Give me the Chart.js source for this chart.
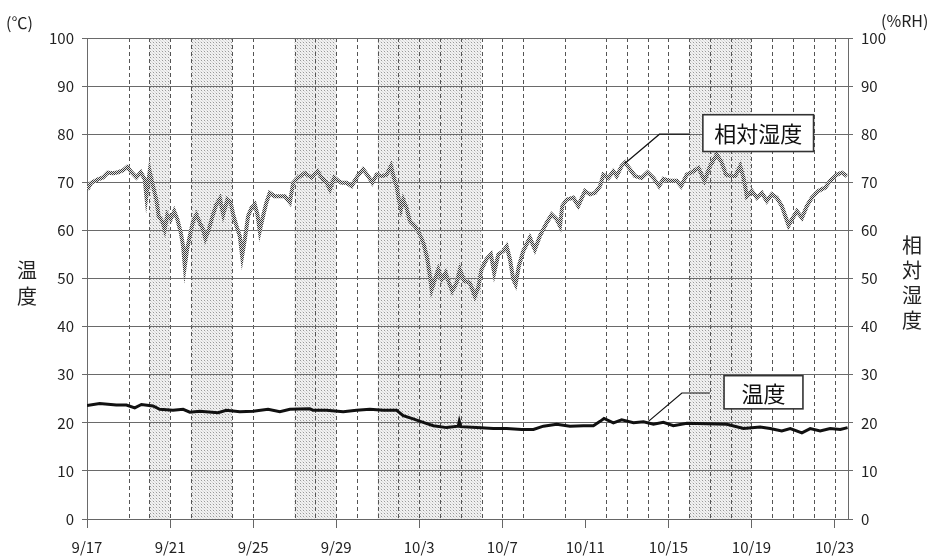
<!DOCTYPE html>
<html>
<head>
<meta charset="utf-8">
<script src="https://cdn.jsdelivr.net/npm/chart.js@4"></script>
<style>
  body { margin: 0; background: #fff; }
  #wrap { width: 934px; height: 559px; }
</style>
</head>
<body>
<div id="wrap"><canvas id="rhChart" width="934" height="559"></canvas></div>
<script>
// x values are days since 9/17
const tickLabels = ['9/17', '9/21', '9/25', '9/29', '10/3', '10/7', '10/11', '10/15', '10/19', '10/23'];

const rhDays = [0.02, 0.21, 0.53, 0.77, 1.0, 1.25, 1.5, 1.74, 1.94, 2.14, 2.38, 2.59, 2.78, 2.86, 3.02, 3.18, 3.34, 3.45, 3.62, 3.74,
  3.87, 4.03, 4.2, 4.35, 4.52, 4.63, 4.71, 4.82, 4.95, 5.11, 5.27, 5.43, 5.59, 5.7, 5.87, 6.07, 6.23, 6.4, 6.56, 6.76,
  6.92, 7.04, 7.2, 7.36, 7.47, 7.6, 7.76, 7.92, 8.08, 8.21, 8.32, 8.48, 8.64, 8.8, 9.04, 9.53, 9.77, 9.93, 10.17, 10.49,
  10.81, 11.1, 11.3, 11.54, 11.7, 11.91, 12.1, 12.26, 12.5, 12.74, 13.03, 13.3, 13.54, 13.74, 13.95, 14.19, 14.43, 14.64, 14.8, 14.91,
  15.02, 15.12, 15.23, 15.39, 15.55, 15.79, 15.99, 16.2, 16.36, 16.47, 16.6, 16.76, 16.92, 17.08, 17.27, 17.4, 17.59, 17.8, 17.96, 18.17,
  18.44, 18.68, 18.84, 19.0, 19.24, 19.45, 19.61, 19.81, 20.05, 20.21, 20.37, 20.53, 20.64, 20.8, 21.01, 21.33, 21.57, 21.81, 22.14, 22.38,
  22.62, 22.78, 22.89, 23.1, 23.42, 23.66, 23.98, 24.22, 24.47, 24.71, 24.87, 25.11, 25.35, 25.51, 25.75, 25.91, 26.15, 26.39, 26.71, 27.0,
  27.28, 27.55, 27.76, 28.08, 28.4, 28.61, 28.89, 29.21, 29.45, 29.74, 30.01, 30.33, 30.57, 30.77, 31.02, 31.22, 31.46, 31.62, 31.78, 32.02,
  32.26, 32.5, 32.74, 32.98, 33.22, 33.46, 33.63, 33.79, 33.95, 34.19, 34.43, 34.67, 34.91, 35.23, 35.55, 35.79, 36.12, 36.36, 36.6];
const rhValues = [68.5, 69.9, 70.6, 71, 72, 71.9, 72.1, 72.5, 73.2, 72.1, 71, 72.1, 70.6, 67.1, 72.3, 69.2, 66.4, 63, 61.9, 60.2,
  63.3, 62.3, 64, 62.3, 59.5, 56.7, 52.6, 56, 58.8, 61.9, 63.3, 61.6, 60.2, 58.3, 60.2, 63.3, 65.4, 66.6, 63.3, 66.4,
  65.8, 63.3, 60.9, 58.8, 54.7, 58.1, 63, 64.7, 65.4, 63.3, 59.9, 63, 65.8, 67.8, 67.1, 67.1, 65.8, 69.9, 71, 71.9,
  71, 72.3, 71, 69.9, 68.5, 71, 70.3, 69.9, 69.9, 69.2, 71.3, 72.7, 71.3, 69.9, 71.6, 71.3, 71.6, 73.4, 70.6, 69.2,
  66.4, 64.4, 66.4, 64.7, 61.9, 60.9, 59.5, 57.4, 54.7, 51.9, 47.7, 49.8, 51.9, 49.8, 51.2, 49.5, 47.4, 49.1, 51.9, 49.5,
  49.1, 46.3, 48.1, 51.9, 54, 55, 51.2, 55, 55.7, 56.7, 54, 49.8, 48.8, 52.6, 55.7, 58.5, 56, 58.8, 61.6, 63.3,
  62.3, 60.9, 65.1, 66.4, 66.8, 65.1, 68.2, 67.5, 67.8, 69.2, 71.6, 70.9, 72.3, 71.3, 73.4, 74.1, 72.7, 71.3, 70.9, 72.1,
  70.9, 69.2, 70.7, 70.3, 70.3, 69.2, 71.6, 72.3, 73, 70.3, 73.4, 75.8, 74.1, 71.6, 71.3, 71.3, 73.4, 70.9, 67.1, 68.2,
  66.8, 67.8, 66.1, 67.5, 66.8, 65.1, 63, 61, 62.3, 64, 62.6, 65.1, 66.8, 68.2, 68.9, 70.3, 71.6, 72, 71.3];

const tempDays = [0, 0.61, 1.41, 1.9, 2.3, 2.62, 3.18, 3.5, 4.14, 4.63, 4.95, 5.43, 6.31, 6.71, 7.36, 8.0, 8.72, 9.29, 9.77, 10.73,
  10.89, 11.53, 12.34, 12.98, 13.62, 14.27, 14.91, 15.23, 15.71, 16.19, 16.68, 17.32, 17.88, 17.93, 18.0, 18.76, 19.57, 20.21, 20.93, 21.5,
  21.98, 22.62, 23.26, 23.9, 24.39, 24.71, 24.9, 25.35, 25.75, 26.32, 26.8, 27.28, 27.76, 28.24, 28.89, 29.85, 30.81, 31.62, 32.42, 32.9,
  33.46, 33.87, 34.43, 34.83, 35.31, 35.79, 36.28, 36.63];
const tempValues = [23.6, 24, 23.7, 23.7, 23.1, 23.8, 23.5, 22.8, 22.6, 22.8, 22.2, 22.4, 22.1, 22.6, 22.3, 22.4, 22.8, 22.3, 22.8, 22.9,
  22.6, 22.6, 22.3, 22.6, 22.8, 22.6, 22.6, 21.5, 20.8, 20.1, 19.4, 19, 19.3, 20.3, 19.2, 19, 18.8, 18.8, 18.6, 18.6,
  19.3, 19.7, 19.3, 19.4, 19.4, 20.3, 20.9, 20, 20.6, 20, 20.2, 19.7, 20.1, 19.4, 19.9, 19.8, 19.7, 18.8, 19.1, 18.8,
  18.3, 18.8, 17.9, 18.8, 18.3, 18.8, 18.6, 19];

// shaded day spans and dashed day lines
const shadeRanges = [[3, 4], [5, 7], [10, 12], [14, 19], [29, 32]];
const dashDays = [2, 3, 4, 5, 7, 8, 10, 11, 12, 13, 14, 15, 16, 17, 18, 19, 20, 21, 23, 25, 26, 27, 28, 29, 30, 31, 32, 33, 34, 35, 36];

const FONT = '"Noto Sans CJK JP", "Noto Sans", sans-serif';

function makePattern(size, bg, dots) {
    const c = document.createElement('canvas');
    c.width = size; c.height = size;
    const g = c.getContext('2d');
    g.fillStyle = bg;
    g.fillRect(0, 0, size, size);
    dots.forEach(([x, y, col]) => { g.fillStyle = col; g.fillRect(x, y, 1, 1); });
    return g.createPattern(c, 'repeat');
}

const shadePattern = makePattern(3, '#f1f1f1', [[0, 0, '#9a9a9a'], [1, 1, '#dcdcdc'], [2, 2, '#dcdcdc']]);
const rhPattern = makePattern(2, '#e2e2e2', [[0, 0, '#3a3a3a'], [1, 1, '#3a3a3a']]);

function callout(ctx, x, y, text, box, line) {
    ctx.strokeStyle = '#111';
    ctx.lineWidth = 1.2;
    ctx.setLineDash([]);
    ctx.beginPath();
    ctx.moveTo(x.getPixelForValue(line[0][0]), y.getPixelForValue(line[0][1]));
    for (let i = 1; i < line.length; i++) {
        ctx.lineTo(x.getPixelForValue(line[i][0]), y.getPixelForValue(line[i][1]));
    }
    ctx.stroke();
    const x0 = x.getPixelForValue(box[0]), x1 = x.getPixelForValue(box[1]);
    const y0 = y.getPixelForValue(box[2]), y1 = y.getPixelForValue(box[3]);
    ctx.fillStyle = '#fff';
    ctx.fillRect(x0, y0, x1 - x0, y1 - y0);
    ctx.lineWidth = 1.6;
    ctx.strokeStyle = '#333';
    ctx.strokeRect(x0, y0, x1 - x0, y1 - y0);
    ctx.fillStyle = '#111';
    ctx.font = '22px ' + FONT;
    ctx.textAlign = 'center';
    ctx.textBaseline = 'middle';
    ctx.fillText(text, (x0 + x1) / 2, (y0 + y1) / 2 + 1);
}

const decor = {
    id: 'decor',
    beforeDraw(chart) {
        const {ctx, chartArea: a, scales: {x}} = chart;
        ctx.save();
        ctx.fillStyle = shadePattern;
        shadeRanges.forEach(([s, e]) => {
            const x0 = x.getPixelForValue(s), x1 = x.getPixelForValue(e);
            ctx.fillRect(x0, a.top, x1 - x0, a.bottom - a.top);
        });
        ctx.strokeStyle = '#555';
        ctx.lineWidth = 1;
        ctx.setLineDash([4, 3]);
        dashDays.forEach(d => {
            const px = Math.round(x.getPixelForValue(d)) + 0.5;
            ctx.beginPath();
            ctx.moveTo(px, a.top);
            ctx.lineTo(px, a.bottom);
            ctx.stroke();
        });
        ctx.restore();
    },
    afterDraw(chart) {
        const {ctx, scales: {x, y}} = chart;
        ctx.save();
        callout(ctx, x, y, '相対湿度', [29.66, 34.99, 84.05, 76.4], [[29.04, 80], [27.57, 80], [25.9, 73.9]]);
        callout(ctx, x, y, '温度', [30.68, 34.48, 29.8, 22.9], [[30.0, 26.2], [28.65, 26.2], [27.04, 20.3]]);

        ctx.fillStyle = '#222';
        ctx.font = '16px ' + FONT;
        ctx.textBaseline = 'middle';
        ctx.textAlign = 'left';
        ctx.fillText('(℃)', 6, 23);
        ctx.fillText('(%RH)', 881, 21);

        ctx.font = '20px ' + FONT;
        ctx.textAlign = 'center';
        ['温', '度'].forEach((ch, i) => ctx.fillText(ch, 27, 270 + i * 26));
        ['相', '対', '湿', '度'].forEach((ch, i) => ctx.fillText(ch, 912, 245 + i * 25));
        ctx.restore();
    }
};

new Chart(document.getElementById('rhChart'), {
    type: 'line',
    data: {
        datasets: [
        {
            label: '相対湿度',
            data: rhDays.map((d, i) => ({x: d, y: rhValues[i]})),
            borderColor: rhPattern,
            borderWidth: 4,
            pointRadius: 0,
            tension: 0,
            yAxisID: 'y2',
        },
        {
            label: '温度',
            data: tempDays.map((d, i) => ({x: d, y: tempValues[i]})),
            borderColor: '#111',
            borderWidth: 3,
            pointRadius: 0,
            tension: 0,
            yAxisID: 'y',
        }
        ]
    },
    options: {
        responsive: false,
        animation: false,
        devicePixelRatio: 1,
        layout: {padding: {top: 38, left: 0, right: 0, bottom: 0}},
        scales: {
            x: {
                type: 'linear',
                min: 0,
                max: 36.65,
                afterFit: s => { s.height = 40; },
                grid: {drawOnChartArea: false, drawTicks: true, tickLength: 9, color: '#666'},
                border: {color: '#666'},
                ticks: {
                    stepSize: 4,
                    includeBounds: false,
                    autoSkip: false,
                    maxRotation: 0,
                    padding: 10,
                    color: '#222',
                    font: {family: FONT, size: 15},
                    callback: v => tickLabels[v / 4],
                },
            },
            y: {
                position: 'left',
                min: 0,
                max: 100,
                afterFit: s => { s.width = 87; },
                grid: {color: '#6a6a6a', tickLength: 5},
                border: {color: '#6a6a6a'},
                ticks: {stepSize: 10, padding: 8, color: '#222', font: {family: FONT, size: 15}},
            },
            y2: {
                position: 'right',
                min: 0,
                max: 100,
                afterFit: s => { s.width = 86; },
                grid: {drawOnChartArea: false, color: '#6a6a6a', tickLength: 5},
                border: {color: '#6a6a6a'},
                ticks: {stepSize: 10, padding: 8, color: '#222', font: {family: FONT, size: 15}},
            },
        },
        plugins: {
            legend: {display: false},
            tooltip: {enabled: false},
        }
    },
    plugins: [decor],
});
</script>
</body>
</html>
